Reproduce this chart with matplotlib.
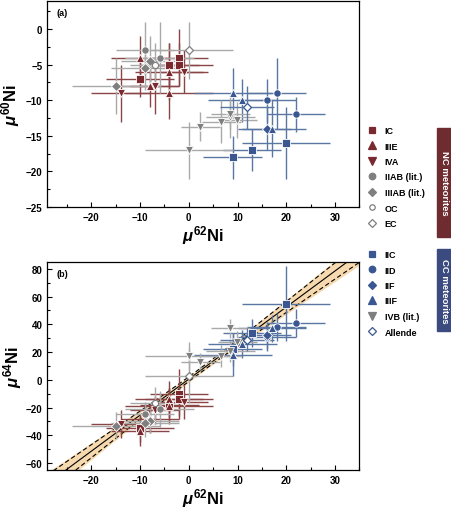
import numpy as np
import matplotlib
matplotlib.use("Agg")
import matplotlib.pyplot as plt
from matplotlib.lines import Line2D
from matplotlib.patches import Rectangle
from matplotlib.ticker import MultipleLocator

plt.rcParams['font.family'] = ['Liberation Sans', 'DejaVu Sans']
plt.rcParams['font.weight'] = 'bold'
plt.rcParams['mathtext.fontset'] = 'custom'
plt.rcParams['mathtext.rm'] = 'Liberation Sans:bold'
plt.rcParams['mathtext.it'] = 'Liberation Sans:bold:italic'
plt.rcParams['mathtext.bf'] = 'Liberation Sans:bold'

# === data: one entry per meteorite ===
group = ['IC', 'IC', 'IC', 'IC',
         'IIIE', 'IIIE', 'IIIE', 'IIIE',
         'IVA', 'IVA', 'IVA',
         'IIAB', 'IIAB',
         'IIIAB', 'IIIAB', 'IIIAB',
         'OC', 'EC',
         'IIC', 'IIC', 'IIC',
         'IID', 'IID', 'IID',
         'IIF',
         'IIIF', 'IIIF', 'IIIF',
         'IVB', 'IVB', 'IVB', 'IVB', 'IVB', 'IVB',
         'Allende']
mu62 = [-10, -4, -2, -2,
        -10, -4, -8, -4,
        -14, -1, -7,
        -9, -6,
        -8, -9, -15,
        -7, 0,
        9, 13, 20,
        18, 16, 22,
        16,
        9, 11, 17,
        2.4, 6.7, 8.5, 9.9, 0, 8.5,
        12]
mu62_err = [7, 6, 6, 7,
            6, 7, 6, 9,
            6, 5, 5,
            6, 7,
            6, 7, 9,
            5, 9,
            6, 6, 9,
            6, 6, 6,
            5,
            8, 7, 7,
            4, 4, 5, 4, 9, 4,
            5.5]
mu60 = [-7, -5, -4, -5,
        -4, -6, -8, -9,
        -9, -6, -8,
        -3, -4,
        -4.5, -5.5, -8,
        -5, -3,
        -18, -17, -16,
        -9, -10, -12,
        -14,
        -9, -10, -14,
        -13.7, -13, -12.3, -12.8, -17, -12,
        -11]
mu60_err = [2.5, 3, 4, 3,
            3, 4, 3, 3.7,
            4, 3, 4,
            4, 5,
            3.5, 3, 4,
            3, 4,
            3, 3, 5,
            5, 3, 2.5,
            3,
            3.5, 3, 4,
            2, 3, 3, 2.5, 4, 2,
            3]
mu64 = [-35, -18, -10, -14,
        -37, -14, -28, -19,
        -32, -16, -22,
        -25, -21,
        -30, -31, -33,
        -17, 3,
        22, 34, 55,
        38, 31, 41,
        32,
        18, 26, 37,
        13, 17, 21, 27, 17, 37,
        29]
mu64_err = [10, 12, 18, 12,
            11, 13, 10, 13,
            10, 12, 10,
            9, 13,
            8, 10, 10,
            12, 20,
            12, 10, 27,
            10, 10, 10,
            10,
            15, 10, 10,
            6, 8, 8, 8, 10, 7,
            8]

# regression through the mu62-mu64 data
fit_slope = 2.6
fit_intercept = 0.5

nc_groups = ['IC', 'IIIE', 'IVA', 'IIAB (lit.)', 'IIIAB (lit.)', 'OC', 'EC']
cc_groups = ['IIC', 'IID', 'IIF', 'IIIF', 'IVB (lit.)', 'Allende']

# === styles ===
RED = '#7a2a2e'
RED_ERR = '#8a4547'
BLUE = '#3a5791'
BLUE_ERR = '#5a76a3'
GREY = '#7f7f7f'
GREY_ERR = '#a9a9a9'

styles = {
    'IC':      dict(marker='s', fc=RED, ec='white', err=RED_ERR, ms=5.2),
    'IIIE':    dict(marker='^', fc=RED, ec='white', err=RED_ERR, ms=5.8),
    'IVA':     dict(marker='v', fc=RED, ec='white', err=RED_ERR, ms=5.8),
    'IIAB':    dict(marker='o', fc=GREY, ec='white', err=GREY_ERR, ms=5.3),
    'IIIAB':   dict(marker='D', fc=GREY, ec='white', err=GREY_ERR, ms=5.0),
    'OC':      dict(marker='o', fc='white', ec=GREY, err=GREY_ERR, ms=4.5),
    'EC':      dict(marker='D', fc='white', ec=GREY, err=GREY_ERR, ms=4.5),
    'IIC':     dict(marker='s', fc=BLUE, ec='white', err=BLUE_ERR, ms=5.2),
    'IID':     dict(marker='o', fc=BLUE, ec='white', err=BLUE_ERR, ms=5.3),
    'IIF':     dict(marker='D', fc=BLUE, ec='white', err=BLUE_ERR, ms=5.0),
    'IIIF':    dict(marker='^', fc=BLUE, ec='white', err=BLUE_ERR, ms=5.8),
    'IVB':     dict(marker='v', fc=GREY, ec='white', err=GREY_ERR, ms=5.8),
    'Allende': dict(marker='D', fc='white', ec=BLUE, err=BLUE_ERR, ms=4.5),
}
legend_style = {
    'IC': 'IC', 'IIIE': 'IIIE', 'IVA': 'IVA', 'IIAB (lit.)': 'IIAB',
    'IIIAB (lit.)': 'IIIAB', 'OC': 'OC', 'EC': 'EC', 'IIC': 'IIC',
    'IID': 'IID', 'IIF': 'IIF', 'IIIF': 'IIIF', 'IVB (lit.)': 'IVB',
    'Allende': 'Allende',
}

x = np.array(mu62, float)
xe = np.array(mu62_err, float)
g = np.array(group)


def draw_panel(ax, y, ye, tag):
    for i in range(len(x)):
        st = styles[g[i]]
        ax.errorbar(x[i], y[i], xerr=xe[i], yerr=ye[i], fmt='none',
                    ecolor=st['err'], elinewidth=1.0, capsize=0, zorder=2)
    for name in styles:
        st = styles[name]
        m = g == name
        if not m.any():
            continue
        ax.plot(x[m], y[m], ls='none', marker=st['marker'], ms=st['ms'],
                mfc=st['fc'], mec=st['ec'], mew=0.6 if st['fc'] != 'white' else 0.9,
                zorder=5)
    ax.set_xlim(-29, 35)
    ax.xaxis.set_major_locator(MultipleLocator(10))
    ax.xaxis.set_minor_locator(MultipleLocator(5))
    ax.tick_params(which='both', direction='in', labelsize=7, width=0.8)
    ax.tick_params(which='major', length=3.5)
    ax.tick_params(which='minor', length=2.2)
    for sp in ax.spines.values():
        sp.set_linewidth(0.9)
    ax.set_xlabel(r'$\mu^{62}\mathrm{Ni}$', fontsize=12, labelpad=1)
    ax.text(0.03, 0.965, tag, transform=ax.transAxes, fontsize=6.5,
            ha='left', va='top')


fig = plt.figure(figsize=(4.51, 5.10), dpi=100)
ax1 = fig.add_axes([0.105, 0.592, 0.692, 0.405])
ax2 = fig.add_axes([0.105, 0.0765, 0.692, 0.408])

draw_panel(ax1, np.array(mu60, float), np.array(mu60_err, float), '(a)')
ax1.set_ylim(-25, 4)
ax1.yaxis.set_major_locator(MultipleLocator(5))
ax1.yaxis.set_minor_locator(MultipleLocator(2.5))
ax1.set_ylabel(r'$\mu^{60}\mathrm{Ni}$', fontsize=12, labelpad=3)

# correlation line with error envelope
xx = np.linspace(-29, 35, 200)
yy = fit_slope * xx + fit_intercept
half = np.sqrt(1.6 ** 2 + (0.2 * (xx - 2)) ** 2)
ax2.fill_between(xx, yy - 1.3 * half, yy + 1.3 * half, color='#f6d9ae',
                 lw=0, zorder=1)
ax2.plot(xx, yy, color='black', lw=0.8, zorder=1.5)
ax2.plot(xx, yy + half, color='black', lw=0.8, ls=(0, (4, 2.5)), zorder=1.5)
ax2.plot(xx, yy - half, color='black', lw=0.8, ls=(0, (4, 2.5)), zorder=1.5)

draw_panel(ax2, np.array(mu64, float), np.array(mu64_err, float), '(b)')
ax2.set_ylim(-65, 85)
ax2.yaxis.set_major_locator(MultipleLocator(20))
ax2.yaxis.set_minor_locator(MultipleLocator(10))
ax2.set_ylabel(r'$\mu^{64}\mathrm{Ni}$', fontsize=12, labelpad=1)


def legend_handles(names):
    hs = []
    for n in names:
        st = styles[legend_style[n]]
        hs.append(Line2D([], [], ls='none', marker=st['marker'], ms=st['ms'] - 0.6,
                         mfc=st['fc'], mec=st['ec'] if st['fc'] == 'white' else st['fc'],
                         mew=0.9))
    return hs


leg_kw = dict(frameon=False, fontsize=6.5, handlelength=1.0, handletextpad=0.9,
              labelspacing=0.72, borderpad=0, borderaxespad=0, loc='upper left')
fig.legend(legend_handles(nc_groups), nc_groups,
           bbox_to_anchor=(0.815, 1 - 127 / 510), **leg_kw)
fig.legend(legend_handles(cc_groups), cc_groups,
           bbox_to_anchor=(0.815, 1 - 251 / 510), **leg_kw)

# group boxes on the right edge
fig.patches.append(Rectangle((0.968, 1 - 238 / 510), 0.04, 109 / 510,
                             transform=fig.transFigure, color='#6e2c30'))
fig.patches.append(Rectangle((0.968, 1 - 332 / 510), 0.04, 82 / 510,
                             transform=fig.transFigure, color='#3b4b80'))
fig.text(0.985, 1 - 183.5 / 510, 'NC meteorites', rotation=270, color='white',
         fontsize=6.8, ha='center', va='center')
fig.text(0.985, 1 - 291 / 510, 'CC meteorites', rotation=270, color='white',
         fontsize=6.8, ha='center', va='center')

fig.savefig('out.png', dpi=100)
